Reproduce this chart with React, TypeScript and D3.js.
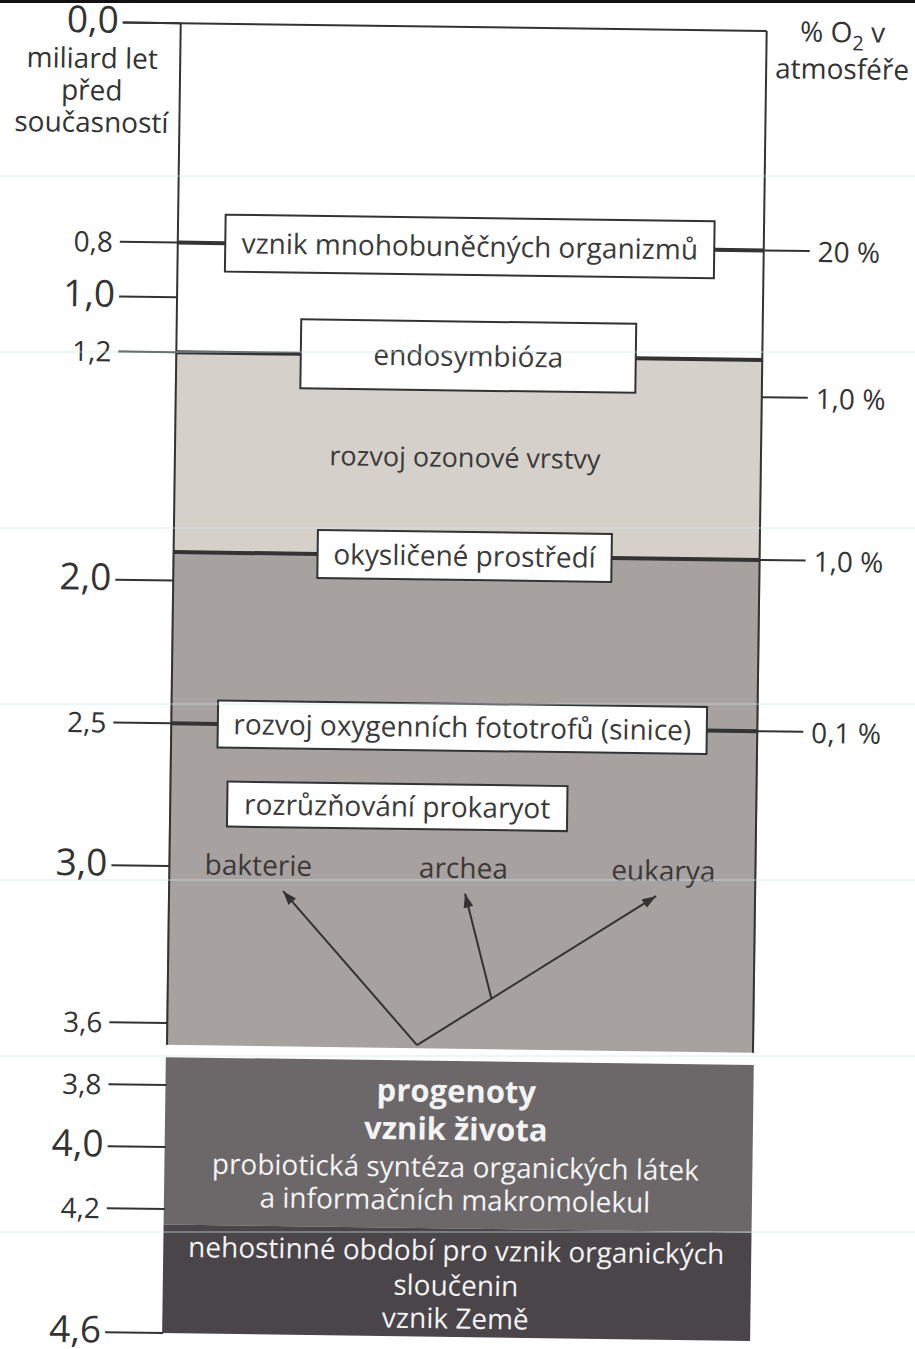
import React from 'react'
import * as d3 from 'd3'

const W = 915
const H = 1349

// osa: miliardy let před současností
const timeTicks = [0, 0.8, 1.0, 1.2, 2.0, 2.5, 3.0, 3.6, 3.8, 4.0, 4.2, 4.6]
const majorTicks = [0, 1.0, 2.0, 3.0, 4.0, 4.6]

// % O2 v atmosféře (pravá strana)
const oxygenTimes = [0.8, 1.33, 1.9, 2.5]
const oxygenLabels = ['20 %', '1,0 %', '1,0 %', '0,1 %']

// události v rámečcích
const eventTimes = [0.8, 1.2, 1.9, 2.5, 2.78]
const eventLabels = [
  'vznik mnohobuněčných organizmů',
  'endosymbióza',
  'okysličené prostředí',
  'rozvoj oxygenních fototrofů (sinice)',
  'rozrůzňování prokaryot',
]
const eventLinked = [true, true, true, true, false]

// pásma
const bandStarts = [0, 1.2, 1.9, 3.71, 4.25]
const bandEnds = [1.2, 1.9, 3.67, 4.25, 4.6]

// rozrůznění prokaryot
const domainNames = ['bakterie', 'archea', 'eukarya']
const domainTime = 3.0
const treeRoot = 3.66
const treeTip = 3.09
const archeaBranch = 3.49

// layout
const colL = 172
const colR = 758
const boxCx = [464, 464, 463, 463, 399]
const boxW = [489, 335, 294, 489, 340]
const boxH = [57, 69, 48, 47, 45]
const bandFill = ['#ffffff', '#d6d0cb', '#a7a1a0', '#6c6769', '#4a4548']
const domainX = [261, 466, 666]
const tipX = [286, 468, 659]
const rootX = 422

const ink = '#333'
const font = "'Open Sans', 'DejaVu Sans', sans-serif"

export default function App() {
  const y = d3.scaleLinear().domain([0, 1.2, 3.0, 3.6, 4.6]).range([27, 356, 870, 1027, 1337])
  const fmt = (v: number) => d3.format('.1f')(v).replace('.', ',')
  const line = d3.line()

  const rootY = y(treeRoot)
  const tipY = y(treeTip)
  const eukT = (rootY - y(archeaBranch)) / (rootY - tipY)
  const branchX = rootX + eukT * (tipX[2] - rootX)

  const scanLines = d3.range(1, 8).map(i => i * 176)

  const progTop = y(bandStarts[3])
  const lastTop = y(bandStarts[4])

  return (
    <svg width={W} height={H} style={{ position: 'absolute', left: 0, top: 0 }} fontFamily={font}>
      <defs>
        <marker id="arr" markerUnits="userSpaceOnUse" markerWidth={16} markerHeight={12}
          refX={14} refY={5} orient="auto">
          <path d="M0,0 L14,5 L0,10 Z" fill={ink} />
        </marker>
      </defs>
      <rect width={W} height={H} fill="#fff" />
      <g transform="rotate(0.77 460 675)">
        {bandStarts.map((s, i) => (
          <rect key={'b' + i} x={colL - 1} width={colR - colL + 2} y={y(s)}
            height={y(bandEnds[i]) - y(s)} fill={bandFill[i]} />
        ))}
        {/* obrys sloupce */}
        <line x1={colL} x2={colL} y1={y(0)} y2={y(bandEnds[2])} stroke={ink} strokeWidth={2} />
        <line x1={colR} x2={colR} y1={y(0)} y2={y(bandEnds[2])} stroke={ink} strokeWidth={2} />
        <line x1={114} x2={colR} y1={y(0)} y2={y(0)} stroke={ink} strokeWidth={2} />

        {/* levá osa */}
        {timeTicks.map(t => {
          const major = majorTicks.includes(t)
          const fs = major ? 37 : 28
          return (
            <g key={'t' + t}>
              <line x1={114} x2={colL} y1={y(t)} y2={y(t)} stroke={ink} strokeWidth={2} />
              <text x={major ? 110 : 107} y={y(t) + 0.36 * fs - (major ? 3 : 0)} textAnchor="end"
                fontSize={fs} fill={ink}>{fmt(t)}</text>
            </g>
          )
        })}
        <g fontSize={28} fill={ink} textAnchor="middle">
          <text x={84} y={73}>miliard let</text>
          <text x={84} y={105}>před</text>
          <text x={84} y={137}>současností</text>
        </g>

        {/* pravá osa */}
        <g fontSize={28} fill={ink} textAnchor="middle">
          <text x={834} y={37}>% O<tspan fontSize={20} dy={8}>2</tspan><tspan dy={-8}> v</tspan></text>
          <text x={834} y={74}>atmosféře</text>
        </g>
        {oxygenTimes.map((t, i) => (
          <g key={'o' + i}>
            <line x1={colR} x2={804} y1={y(t)} y2={y(t)} stroke={ink} strokeWidth={2} />
            <text x={812} y={y(t) + 11} fontSize={28} fill={ink}>{oxygenLabels[i]}</text>
          </g>
        ))}

        {/* rozvoj ozonové vrstvy */}
        <text x={462} y={y(bandStarts[1]) + 111} textAnchor="middle" fontSize={27} fill="#3a3a3a">
          rozvoj ozonové vrstvy
        </text>

        {/* události */}
        {eventTimes.map((t, i) => {
          const x0 = boxCx[i] - boxW[i] / 2
          const x1 = boxCx[i] + boxW[i] / 2
          return (
            <g key={'e' + i}>
              {eventLinked[i] && (
                <>
                  <line x1={colL} x2={x0} y1={y(t)} y2={y(t)} stroke={ink} strokeWidth={4} />
                  <line x1={x1} x2={colR} y1={y(t)} y2={y(t)} stroke={ink} strokeWidth={4} />
                </>
              )}
              <rect x={x0} y={y(t) - boxH[i] / 2} width={boxW[i]} height={boxH[i]}
                fill="#fff" stroke={ink} strokeWidth={2} />
              <text x={boxCx[i]} y={y(t) + 10} textAnchor="middle" fontSize={28} fill="#3a3a3a">
                {eventLabels[i]}
              </text>
            </g>
          )
        })}

        {/* bakterie / archea / eukarya */}
        {domainNames.map((d, i) => (
          <text key={d} x={domainX[i]} y={y(domainTime) + 8} textAnchor="middle" fontSize={28} fill="#3c3838">{d}</text>
        ))}
        <path d={line([[rootX, rootY], [tipX[0], tipY]]) ?? ''} stroke={ink} strokeWidth={2} markerEnd="url(#arr)" />
        <path d={line([[rootX, rootY], [tipX[2], tipY]]) ?? ''} stroke={ink} strokeWidth={2} markerEnd="url(#arr)" />
        <path d={line([[branchX, y(archeaBranch)], [tipX[1], tipY]]) ?? ''} stroke={ink} strokeWidth={2} markerEnd="url(#arr)" />

        {/* progenoty */}
        <g textAnchor="middle" fill="#f3f3f3">
          <text x={462} y={progTop + 41} fontSize={31} fontWeight="bold">progenoty</text>
          <text x={462} y={progTop + 79} fontSize={31} fontWeight="bold">vznik života</text>
          <text x={462} y={progTop + 116} fontSize={28}>probiotická syntéza organických látek</text>
          <text x={462} y={progTop + 149} fontSize={28}>a informačních makromolekul</text>
        </g>
        <g textAnchor="middle" fill="#f3f3f3" fontSize={28}>
          <text x={464} y={lastTop + 32}>nehostinné období pro vznik organických</text>
          <text x={464} y={lastTop + 67}>sloučenin</text>
          <text x={464} y={lastTop + 100}>vznik Země</text>
        </g>
      </g>
      {scanLines.map(s => (
        <line key={'s' + s} x1={0} x2={W} y1={s} y2={s} stroke="#cfe9ec" strokeWidth={1} opacity={0.7} />
      ))}
      <rect x={0} y={0} width={W} height={3} fill="#111" />
    </svg>
  )
}
